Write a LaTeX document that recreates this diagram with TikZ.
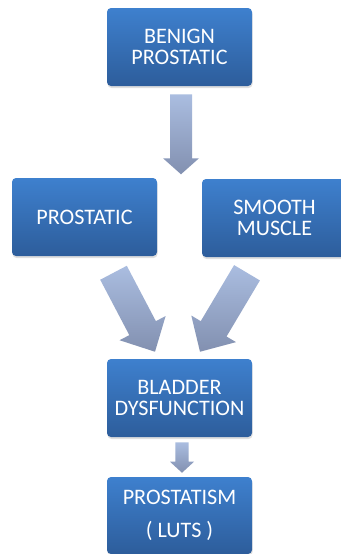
\documentclass[tikz,border=0pt]{standalone}
\usepackage{fontspec}
\setmainfont{Carlito}
\usetikzlibrary{calc,shadows}
\definecolor{boxtop}{RGB}{62,128,206}
\definecolor{boxbot}{RGB}{45,93,155}
\definecolor{arrtop}{RGB}{170,189,224}
\definecolor{arrbot}{RGB}{130,144,176}
\tikzset{
  box/.style={rectangle, rounded corners=3pt, minimum width=108.75pt, minimum height=58.5pt,
    top color=boxtop, bottom color=boxbot, draw=none, text=white, align=center,
    font=\fontsize{16.6}{16.3}\selectfont, inner sep=0pt,
    drop shadow={opacity=0.25, shadow xshift=0.4pt, shadow yshift=-1.5pt}},
  blockarrow/.style={top color=arrtop, bottom color=arrbot, draw=none}
}
% #1 start, #2 tip, #3 shaft half, #4 head half, #5 head length
\newcommand{\blockarr}[5]{%
  \path[blockarrow]
    ($(#1)!#3!-90:(#2)$) --
    ($($(#2)!#5!(#1)$)!#3!-90:(#2)$) --
    ($($(#2)!#5!(#1)$)!#4!-90:(#2)$) --
    (#2) --
    ($($(#2)!#5!(#1)$)!#4!90:(#2)$) --
    ($($(#2)!#5!(#1)$)!#3!90:(#2)$) --
    ($(#1)!#3!90:(#2)$) -- cycle;}
\begin{document}
\begin{tikzpicture}[x=0.75pt,y=-0.75pt]
\useasboundingbox (0,0) rectangle (340,554);
\path[fill=white] (0,0) rectangle (340,554);
\node[box] (b1) at (179.5,47) {BENIGN\\PROSTATIC};
\node[box] (b2) at (84.5,217) {PROSTATIC};
\node[box] (b3) at (274.5,218) {SMOOTH\\MUSCLE};
\node[box] (b4) at (179.5,398) {BLADDER\\DYSFUNCTION};
\node[box, minimum height=57.75pt] (b5) at (179.5,515.5) {PROSTATISM\\[8.5pt]( LUTS )};
\coordinate (a1s) at ($(b1.south)+(1.5,8)$);
\coordinate (a1e) at ($(b1.south)+(1.5,88)$);
\coordinate (a2s) at ($(b2.south)+(29,16.5)$);
\coordinate (a2e) at ($(b4.north)+(-24.5,-7)$);
\coordinate (a3s) at ($(b3.south)+(-27.5,15.5)$);
\coordinate (a3e) at ($(b4.north)+(20.5,-7)$);
\coordinate (a4s) at ($(b4.south)+(2.5,5)$);
\coordinate (a4e) at ($(b5.north)+(2.5,-4)$);
\blockarr{a1s}{a1e}{8.25pt}{13.5pt}{12pt}
\blockarr{a2s}{a2e}{11.25pt}{19.5pt}{20pt}
\blockarr{a3s}{a3e}{11.25pt}{19.5pt}{20pt}
\blockarr{a4s}{a4e}{4.9pt}{9pt}{8.25pt}
\end{tikzpicture}
\end{document}
